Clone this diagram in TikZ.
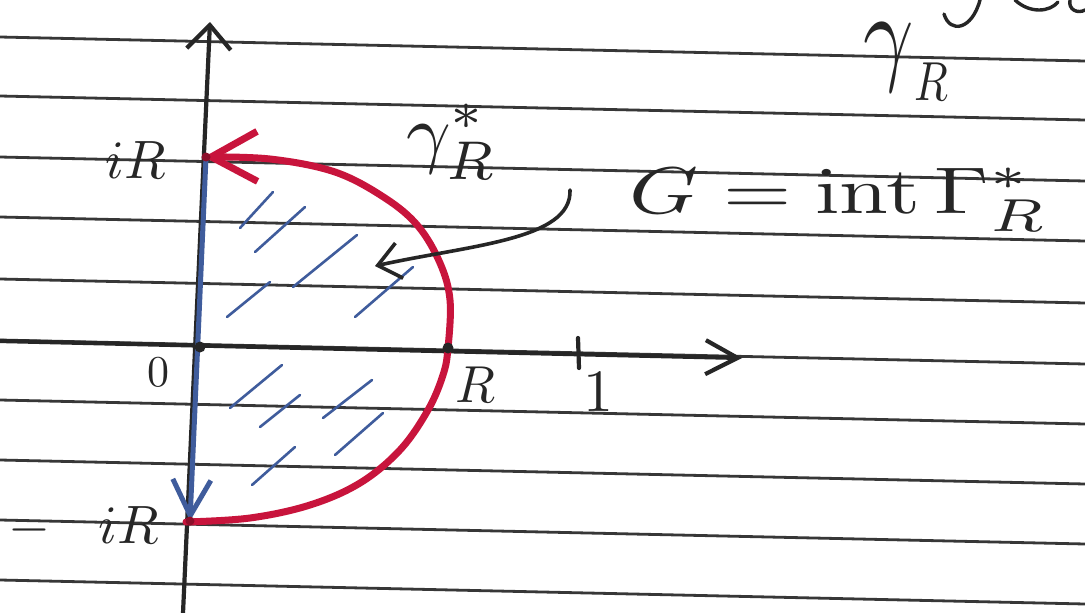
\documentclass[tikz,border=0pt]{standalone}
\usepackage{graphicx}
\usetikzlibrary{arrows.meta}
\definecolor{redc}{HTML}{C8143C}
\definecolor{bluec}{HTML}{3F5C9C}
\definecolor{inkc}{HTML}{262626}
\begin{document}
\begin{tikzpicture}[x=1pt,y=-1pt,
  paperline/.style={inkc!92, line width=2.8pt},
  axisline/.style={inkc, line width=4.2pt, line cap=round},
  hatch/.style={bluec, line width=2.6pt, line cap=round},
  hand/.style={text=inkc, inner sep=0pt, transform shape},
  fs/.style={scale=#1/10}]
\useasboundingbox (0,0) rectangle (1085,613);
\clip (0,0) rectangle (1085,613);
\fill[white] (0,0) rectangle (1085,613);
% ruled paper lines
\foreach \y in {37,96,157,217,279,340,400,460,520,580}
  \draw[paperline] (0,\y) -- (1085,\y+24);
% key points
\coordinate (O) at (200,347);
\coordinate (Rp) at (448,348);
\coordinate (iRp) at (206,157);
\coordinate (miRp) at (190,521);
\coordinate (ytop) at (210,22);
\coordinate (ybot) at (183,613);
\coordinate (xl) at (0,341);
\coordinate (xr) at (742,358);
\coordinate (tickA) at (578,338);
\coordinate (tickB) at (579,368);
% axes
\draw[axisline, -{Straight Barb[length=24pt,width=44pt]}] (ybot) -- (ytop);
\draw[axisline, -{Straight Barb[length=32pt,width=34pt]}] (xl) -- (xr);
\draw[axisline] (tickA) -- (tickB);
% hatching
\draw[hatch] (240,228) -- (273,192);
\draw[hatch] (255,252) -- (305,207);
\draw[hatch] (227,317) -- (270,282);
\draw[hatch] (293,287) -- (357,235);
\draw[hatch] (355,317) -- (413,267);
\draw[hatch] (230,408) -- (282,365);
\draw[hatch] (260,427) -- (300,395);
\draw[hatch] (252,485) -- (295,447);
\draw[hatch] (323,418) -- (372,380);
\draw[hatch] (335,455) -- (383,413);
% blue segment
\draw[bluec, line width=5pt, -{Straight Barb[length=36pt,width=38pt]}] (iRp) -- (miRp);
% red arc
\draw[redc, line width=7pt, line cap=round, -{Straight Barb[length=46pt,width=50pt]}]
  plot[smooth, tension=0.6] coordinates {(186,522) (250,518) (310,505) (360,483) (400,450) (428,410) (443,375) (448,348) (450,300) (440,263) (418,226) (385,198) (335,172) (270,159) (204,157)};
% dots
\fill[inkc] (O) circle (5.5pt);
\fill[inkc] (Rp) circle (5.5pt);
\fill[redc!70!black] (iRp) circle (4.5pt);
\fill[redc!70!black] (miRp) circle (4.5pt);
% curved pointer
\coordinate (ptrS) at (570,190);
\coordinate (ptrE) at (375,266);
\draw[inkc, line width=3.6pt, line cap=round, -{Straight Barb[length=22pt,width=36pt]}]
  (ptrS) .. controls (572,240) and (470,245) .. (ptrE);
% fragments of cut-off writing at the top edge
\draw[inkc, line width=3.4pt, line cap=round] (980,0) .. controls (972,30) and (950,34) .. (944,14);
\draw[inkc, line width=3.4pt, line cap=round] (1015,0) .. controls (1030,14) and (1050,12) .. (1058,2);
\draw[inkc, line width=3.4pt, line cap=round] (1070,0) .. controls (1068,10) and (1078,14) .. (1085,10);
% labels
\node[hand, fs=54] (liR) at (136,160) {$iR$};
\node[hand, fs=54, anchor=east] (lmiR) at (160,527) {$-\hspace{9pt}iR$};
\node[hand, fs=44] (l0) at (158,372) {$0$};
\node[hand, fs=52] (lR) at (475,385) {$R$};
\node[hand, fs=60] (l1) at (598,392) {$1$};
\node[hand, fs=78] (lgam) at (452,142) {$\gamma^{*}_{R}$};
\node[hand, fs=66, xscale=1.33, anchor=base west] (lG) at (628,213) {$G=\mathrm{int}\,\Gamma^{*}_{R}$};
\node[hand, fs=110, xscale=0.8, anchor=base west] (ltop) at (862,70) {$\gamma$\raisebox{-2.8pt}{\scalebox{0.5}{$R$}}};
\end{tikzpicture}
\end{document}
